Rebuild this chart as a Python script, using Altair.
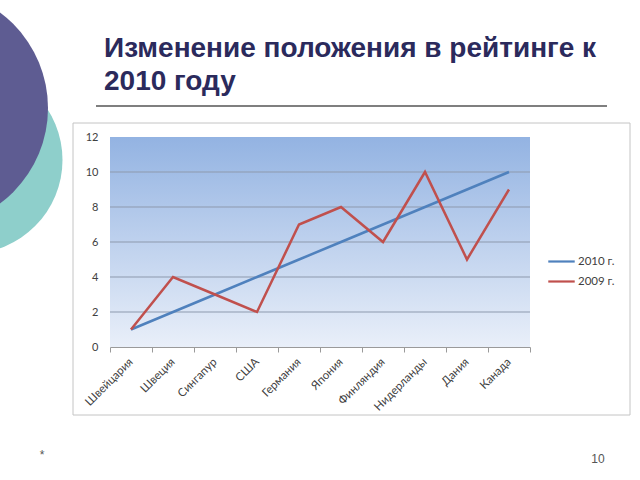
import altair as alt
import pandas as pd

countries = ["Швейцария", "Швеция", "Сингапур", "США", "Германия", "Япония",
             "Финляндия", "Нидерланды", "Дания", "Канада"]
rank_2010 = [1, 2, 3, 4, 5, 6, 7, 8, 9, 10]
rank_2009 = [1, 4, 3, 2, 7, 8, 6, 10, 5, 9]
series_names = ["2010 г.", "2009 г."]
series_colors = ["#4f81bd", "#c0504d"]
y_ticks = [0, 2, 4, 6, 8, 10, 12]
grid_values = [2, 4, 6, 8, 10]

title_line1 = "Изменение положения в рейтинге к"
title_line2 = "2010 году"
footer_left = "*"
footer_right = "10"

W, H = 420, 210

df2010 = pd.DataFrame({"country": countries, "rank": rank_2010, "series": series_names[0]})
df2009 = pd.DataFrame({"country": countries, "rank": rank_2009, "series": series_names[1]})
dfgrid = pd.DataFrame({"rank": grid_values})
one = pd.DataFrame({"a": [0]})

y_scale = alt.Scale(domain=[0, 12], nice=False)

x_enc = alt.X("country:N", sort=countries, bandPosition=0.5,
              scale=alt.Scale(type="band", paddingInner=0, paddingOuter=0),
              axis=alt.Axis(title=None, tickBand="extent", labelAngle=-45, labelAlign="right",
                            labelBaseline="middle", labelPadding=8, tickSize=5,
                            tickColor="#9a9a9a", domainColor="#9a9a9a", grid=False,
                            labelFont="Lato", labelFontSize=11.5, labelColor="#404040",
                            labelOverlap=False, zindex=1))
y_axis = alt.Axis(title=None, values=y_ticks, tickSize=0, domain=False,
                  labelPadding=12, labelFont="Lato", labelFontSize=11,
                  labelColor="#404040", grid=False, labelOverlap=False, zindex=1)
y_enc = alt.Y("rank:Q", scale=y_scale, axis=y_axis)
color_enc = alt.Color("series:N",
                      scale=alt.Scale(domain=series_names, range=series_colors),
                      legend=alt.Legend(title=None, orient="none", legendX=437, legendY=110,
                                        symbolType="stroke", symbolSize=700,
                                        symbolStrokeWidth=2.2, labelFont="Lato",
                                        labelFontSize=11.5, labelColor="#404040",
                                        rowPadding=0, labelOffset=2))

teal = alt.Chart(one).mark_point(shape="circle", filled=True, opacity=1, color="#8ecfcb").encode(
    x=alt.value(-110 - 31), y=alt.value(160 - 137), size=alt.value(187 ** 2))
purple = alt.Chart(one).mark_point(shape="circle", filled=True, opacity=1, color="#5e5c92").encode(
    x=alt.value(-110 - 71), y=alt.value(108 - 137), size=alt.value(238 ** 2))

frame = alt.Chart(one).mark_rect(fill="white", stroke="#c4c4c4", strokeWidth=1).encode(
    x=alt.value(-37), x2=alt.value(520), y=alt.value(-14), y2=alt.value(278))
grad = alt.Chart(one).mark_rect(color=alt.LinearGradient(
    gradient="linear", x1=0, x2=0, y1=0, y2=1,
    stops=[alt.GradientStop(offset=0, color="#93b3e2"),
           alt.GradientStop(offset=1, color="#e9eff9")])).encode(
    x=alt.value(0), x2=alt.value(W), y=alt.value(0), y2=alt.value(H))
grid = alt.Chart(dfgrid).mark_rule(color="#8d99ad", strokeWidth=1).encode(
    y=y_enc, x=alt.value(0), x2=alt.value(W))

t1 = alt.Chart(one).mark_text(text=title_line1, align="left", baseline="alphabetic",
                              font="Liberation Sans", fontWeight="bold", fontSize=28,
                              color="#2b2a5c").encode(x=alt.value(-6), y=alt.value(57 - 137))
t2 = alt.Chart(one).mark_text(text=title_line2, align="left", baseline="alphabetic",
                              font="Liberation Sans", fontWeight="bold", fontSize=28,
                              color="#2b2a5c").encode(x=alt.value(-6), y=alt.value(90 - 137))
uline = alt.Chart(one).mark_rule(color="#7f7f7f", strokeWidth=2).encode(
    x=alt.value(96 - 110), x2=alt.value(607 - 110), y=alt.value(106 - 137))
f1 = alt.Chart(one).mark_text(text=footer_left, align="center", baseline="middle",
                              font="Liberation Sans", fontSize=12, color="#555555").encode(
    x=alt.value(42 - 110), y=alt.value(455 - 137))
f2 = alt.Chart(one).mark_text(text=footer_right, align="center", baseline="middle",
                              font="Liberation Sans", fontSize=12, color="#555555").encode(
    x=alt.value(598 - 110), y=alt.value(459 - 137))

l2010 = alt.Chart(df2010).mark_line(strokeWidth=2.5).encode(x=x_enc, y=y_enc, color=color_enc)
l2009 = alt.Chart(df2009).mark_line(strokeWidth=2.5).encode(x=x_enc, y=y_enc, color=color_enc)

chart = alt.layer(teal, purple, frame, grad, grid, t1, t2, uline, f1, f2, l2010, l2009).properties(
    width=W, height=H,
    autosize=alt.AutoSizeParams(type="none"),
    padding={"left": 110, "top": 137, "right": 110, "bottom": 133},
    background="white",
).configure_view(stroke=None)

chart.save("out.html", embed_options={"renderer": "svg", "actions": False})
